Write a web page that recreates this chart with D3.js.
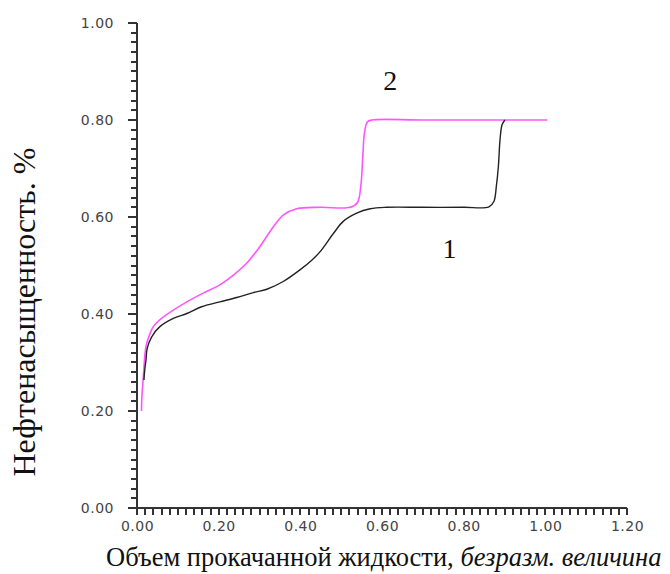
<!DOCTYPE html>
<html>
<head>
<meta charset="utf-8">
<script src="https://cdn.jsdelivr.net/npm/d3@7"></script>
<style>
  body { margin: 0; background: #fff; }
  .tick text { font-family: "DejaVu Sans", sans-serif; font-size: 14px; fill: #444; letter-spacing: 0.5px; }
</style>
</head>
<body>
<div id="chart"></div>
<script>
// curve 1 (black): pumped volume vs oil saturation
var x1 = [0.017, 0.019, 0.022, 0.025, 0.036, 0.056, 0.089, 0.122, 0.158, 0.203, 0.244, 0.285, 0.318, 0.358, 0.399, 0.428, 0.448,
          0.481, 0.505, 0.538, 0.571, 0.611, 0.70, 0.80, 0.862, 0.874, 0.880, 0.885, 0.889, 0.894, 0.901];
var y1 = [0.264, 0.285, 0.305, 0.329, 0.353, 0.374, 0.391, 0.401, 0.415, 0.425, 0.434, 0.444, 0.451, 0.467, 0.491, 0.511, 0.528,
          0.566, 0.591, 0.608, 0.617, 0.620, 0.620, 0.620, 0.621, 0.632, 0.663, 0.704, 0.759, 0.790, 0.800];
// curve 2 (magenta)
var x2 = [0.011, 0.012, 0.015, 0.022, 0.032, 0.040, 0.060, 0.089, 0.122, 0.162, 0.203, 0.236, 0.269, 0.301, 0.334, 0.358, 0.391, 0.448,
          0.522, 0.540, 0.548, 0.553, 0.557, 0.564, 0.575, 0.70, 0.90, 1.005];
var y2 = [0.200, 0.230, 0.264, 0.333, 0.360, 0.374, 0.391, 0.408, 0.425, 0.443, 0.460, 0.480, 0.505, 0.539, 0.580, 0.604, 0.617, 0.620,
          0.620, 0.630, 0.663, 0.725, 0.773, 0.796, 0.800, 0.800, 0.800, 0.800];
var xTicks = [0, 0.2, 0.4, 0.6, 0.8, 1.0, 1.2];
var yTicks = [0, 0.2, 0.4, 0.6, 0.8, 1.0];
var curveLabels = [{text: "1", x: 0.765, y: 0.515}, {text: "2", x: 0.62, y: 0.862}];

var width = 670, height = 574;
var svg = d3.select("#chart").append("svg")
  .attr("width", width).attr("height", height);

var x = d3.scaleLinear().domain([0, 1.2]).range([137, 627]);
var y = d3.scaleLinear().domain([0, 1]).range([508, 23]);

// tick marks drawn as small filled rects, every 0.02
var xMinor = d3.range(0, 61).map(function(i) { return i * 0.02; });
var yMinor = d3.range(0, 51).map(function(i) { return i * 0.02; });
svg.append("g").selectAll("rect").data(xMinor).enter().append("rect")
  .attr("x", function(d) { return Math.round(x(d)) - 1; })
  .attr("y", y(0))
  .attr("width", 2).attr("height", 7)
  .attr("fill", "#333");
svg.append("g").selectAll("rect").data(yMinor).enter().append("rect")
  .attr("x", function(d, i) { return x(0) - (i % 10 === 0 ? 9 : 6); })
  .attr("y", function(d) { return Math.round(y(d)) - 1; })
  .attr("width", function(d, i) { return i % 10 === 0 ? 9 : 6; }).attr("height", 2)
  .attr("fill", "#333");

// axis lines + labels
svg.append("g").attr("transform", "translate(0," + y(0) + ")")
  .call(d3.axisBottom(x).tickValues(xTicks).tickSize(7).tickPadding(6).tickFormat(d3.format(".2f")))
  .call(function(g) { g.selectAll(".tick line").remove(); g.select(".domain").attr("stroke", "#333").attr("stroke-width", 2).attr("d", "M" + x(0) + ",0H" + x(1.2)); });
svg.append("g").attr("transform", "translate(" + x(0) + ",0)")
  .call(d3.axisLeft(y).tickValues(yTicks).tickSize(9).tickPadding(14).tickFormat(d3.format(".2f")))
  .call(function(g) { g.selectAll(".tick line").remove(); g.select(".domain").attr("stroke", "#333").attr("stroke-width", 2).attr("d", "M0," + y(0) + "V" + y(1)); });

var line = d3.line().x(function(d) { return x(d[0]); }).y(function(d) { return y(d[1]); }).curve(d3.curveCatmullRom.alpha(0.5));

svg.append("path").datum(d3.zip(x2, y2)).attr("d", line)
  .attr("fill", "none").attr("stroke", "#ff55ff").attr("stroke-width", 1.6);
svg.append("path").datum(d3.zip(x1, y1)).attr("d", line)
  .attr("fill", "none").attr("stroke", "#222").attr("stroke-width", 1.4);

svg.selectAll(".clabel").data(curveLabels).enter().append("text")
  .attr("class", "clabel")
  .attr("x", function(d) { return x(d.x); })
  .attr("y", function(d) { return y(d.y); })
  .attr("text-anchor", "middle")
  .attr("font-family", "Liberation Serif, serif")
  .attr("font-size", 28)
  .attr("fill", "#111")
  .text(function(d) { return d.text; });

// axis titles
var xt = svg.append("text").attr("x", 106).attr("y", 566)
  .attr("font-family", "Liberation Serif, serif").attr("font-size", 26.5).attr("fill", "#111");
xt.append("tspan").text("Объем прокачанной жидкости, ");
xt.append("tspan").attr("font-style", "italic").text("безразм. величина");

svg.append("text")
  .attr("transform", "translate(35,312) rotate(-90)")
  .attr("text-anchor", "middle")
  .attr("font-family", "Liberation Serif, serif").attr("font-size", 32).attr("fill", "#111")
  .text("Нефтенасыщенность. %");
</script>
</body>
</html>
